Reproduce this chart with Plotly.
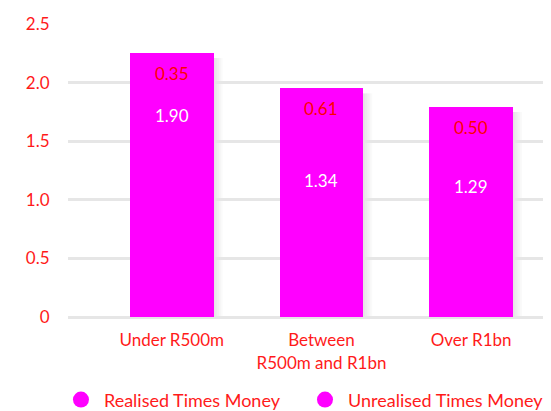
import plotly.graph_objects as go

categories = ["Under R500m", "Between R500m and R1bn", "Over R1bn"]
tick_labels = ["Under R500m", "Between<br>R500m and R1bn", "Over R1bn"]
realised = [1.90, 1.34, 1.29]
unrealised = [0.35, 0.61, 0.50]
y_ticks = [0, 0.5, 1.0, 1.5, 2.0, 2.5]
y_tick_text = ["0", "0.5", "1.0", "1.5", "2.0", "2.5"]

MAGENTA = "#FF00FF"
RED = "#FF1A1A"
FONT = "Lato, Open Sans, sans-serif"
BAR_W = 0.56

fig = go.Figure()
fig.add_trace(go.Bar(x=categories, y=realised, name="Realised Times Money",
                     marker=dict(color=MAGENTA, line=dict(width=0)), width=BAR_W,
                     showlegend=False))
fig.add_trace(go.Bar(x=categories, y=unrealised, name="Unrealised Times Money",
                     marker=dict(color=MAGENTA, line=dict(width=0)), width=BAR_W,
                     showlegend=False))
# legend proxies
fig.add_trace(go.Scatter(x=[None], y=[None], mode="markers", name="Realised Times Money",
                         marker=dict(symbol="circle", size=17, color=MAGENTA), legend="legend"))
fig.add_trace(go.Scatter(x=[None], y=[None], mode="markers", name="Unrealised Times Money",
                         marker=dict(symbol="circle", size=17, color=MAGENTA), legend="legend2"))

# soft drop shadows to the right of / below each bar
shapes = []
for i, (r, u) in enumerate(zip(realised, unrealised)):
    top = r + u
    for k in range(1, 6):
        dx = 0.012 * k
        shapes.append(dict(type="rect", xref="x", yref="y", layer="below",
                           x0=i - BAR_W / 2 + 0.02, x1=i + BAR_W / 2 + dx,
                           y0=-0.03 * k, y1=top - 0.04,
                           fillcolor="rgba(0,0,0,0.018)", line=dict(width=0)))

annotations = []
for c, r, u in zip(categories, realised, unrealised):
    annotations.append(dict(x=c, y=r, text=f"{r:.2f}", showarrow=False,
                            yanchor="middle", yshift=-21,
                            font=dict(color="white", size=17, family=FONT)))
    annotations.append(dict(x=c, y=r + u, text=f"{u:.2f}", showarrow=False,
                            yanchor="middle", yshift=-20,
                            font=dict(color="#FF0000", size=17, family=FONT)))

legend_common = dict(orientation="h", y=-0.283, xanchor="left", yanchor="middle",
                     bgcolor="rgba(0,0,0,0)", itemwidth=36,
                     font=dict(size=18, color=RED, family=FONT))

fig.update_layout(
    width=543, height=403,
    barmode="stack",
    margin=dict(l=60, r=5, t=16, b=94, autoexpand=False),
    plot_bgcolor="white", paper_bgcolor="white",
    font=dict(family=FONT, color=RED, size=17),
    annotations=annotations,
    shapes=shapes,
    legend=dict(x=-0.021, **legend_common),
    legend2=dict(x=0.4895, **legend_common),
    xaxis=dict(range=[-0.693, 2.5], showgrid=False, zeroline=False, showline=False,
               ticks="outside", ticklen=8, tickcolor="rgba(0,0,0,0)",
               tickfont=dict(size=17, color=RED, family=FONT),
               tickvals=categories, ticktext=tick_labels),
    yaxis=dict(range=[0, 2.5], tickvals=y_ticks, ticktext=y_tick_text,
               showgrid=True, gridcolor="#E6E6E6", gridwidth=3,
               zeroline=True, zerolinecolor="#E6E6E6", zerolinewidth=3,
               showline=False, ticks="outside", ticklen=14,
               tickcolor="rgba(0,0,0,0)",
               tickfont=dict(size=17, color=RED, family=FONT)),
)

fig.write_html("out.html")
